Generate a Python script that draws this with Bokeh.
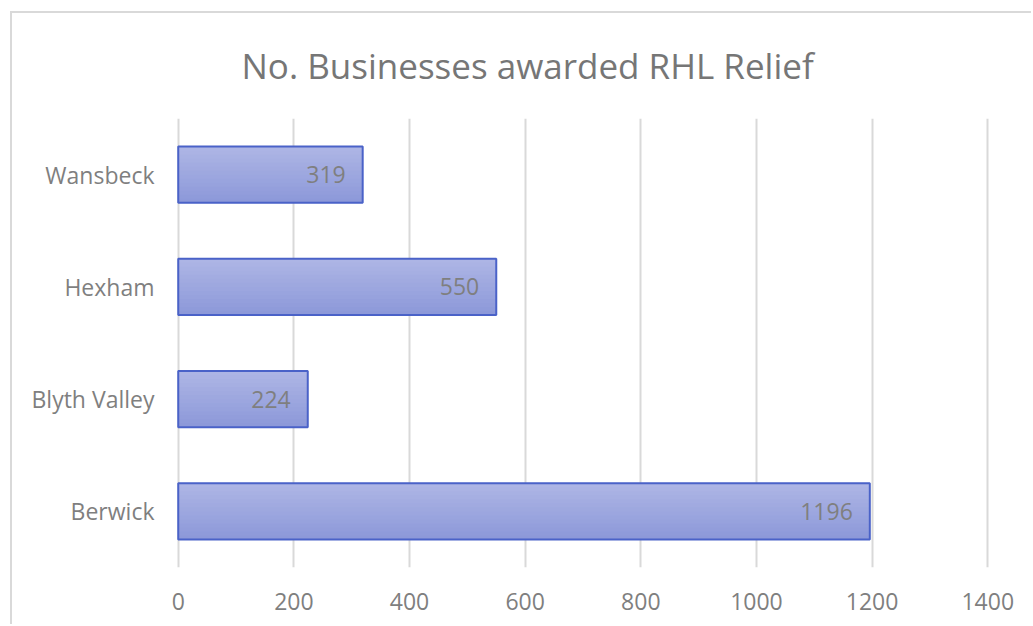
from bokeh.plotting import figure
from bokeh.models import FactorRange, Range1d, ColumnDataSource, FixedTicker
from bokeh.transform import dodge
from bokeh.core.properties import value
from bokeh.embed import file_html
from bokeh.resources import INLINE

areas = ["Berwick", "Blyth Valley", "Hexham", "Wansbeck"]
counts = [1196, 224, 550, 319]
x_ticks = [0, 200, 400, 600, 800, 1000, 1200, 1400]
title_text = "No. Businesses awarded RHL Relief"

src = ColumnDataSource(dict(area=areas, count=counts, label=[str(c) for c in counts]))

FONT = "Open Sans"
p = figure(width=1021, height=613, y_range=FactorRange(*areas), x_range=Range1d(-3, 1403),
           output_backend="svg", toolbar_location=None,
           min_border_left=164, min_border_right=44, min_border_top=105, min_border_bottom=59)
p.styles = {"margin-left": "10px", "margin-top": "11px",
            "border-left": "2px solid #d9d9d9", "border-top": "2px solid #d9d9d9"}
p.outline_line_color = None
p.title.text = title_text
p.title.align = "left"
p.title.offset = 65
p.title.vertical_align = "top"
p.title.text_font = FONT
p.title.text_font_size = "35px"
p.title.text_font_style = "normal"
p.title.text_color = "#767676"
p.title.standoff = 56

p.xgrid.ticker = FixedTicker(ticks=x_ticks)
p.xaxis.ticker = FixedTicker(ticks=x_ticks)
p.xgrid.grid_line_color = "#d9d9d9"
p.xgrid.grid_line_width = 2
p.ygrid.grid_line_color = None
for ax in (p.xaxis, p.yaxis):
    ax.axis_line_color = None
    ax.major_tick_line_color = None
    ax.minor_tick_line_color = None
    ax.major_label_text_font = FONT
    ax.major_label_text_font_size = "23px"
    ax.major_label_text_color = "#7f7f7f"
p.xaxis.major_label_standoff = 19
p.yaxis.major_label_standoff = 16

# gradient fill via thin strips
N = 14
top = (0xad, 0xb5, 0xe5)
bot = (0x8d, 0x99, 0xd9)
h = 0.5 / N
for i in range(N):
    t = i / (N - 1)
    c = tuple(int(round(bot[k] + (top[k] - bot[k]) * t)) for k in range(3))
    col = "#%02x%02x%02x" % c
    off = -0.25 + h / 2 + i * h
    hh = h * 1.6 if i < N - 1 else h
    p.hbar(y=dodge("area", off + (hh - h) / 2, range=p.y_range), right="count", left=0, height=hh,
           source=src, fill_color=col, line_color=None)
p.hbar(y="area", right="count", left=0, height=0.5, source=src,
       fill_color=None, line_color="#4a62c8", line_width=2)

p.text(x="count", y="area", text="label", source=src, text_align="right", text_baseline="middle",
       x_offset=-17, text_font=value(FONT), text_font_size="23px", text_color="#7f7f7f")

open("out.html", "w").write(file_html(p, INLINE))
